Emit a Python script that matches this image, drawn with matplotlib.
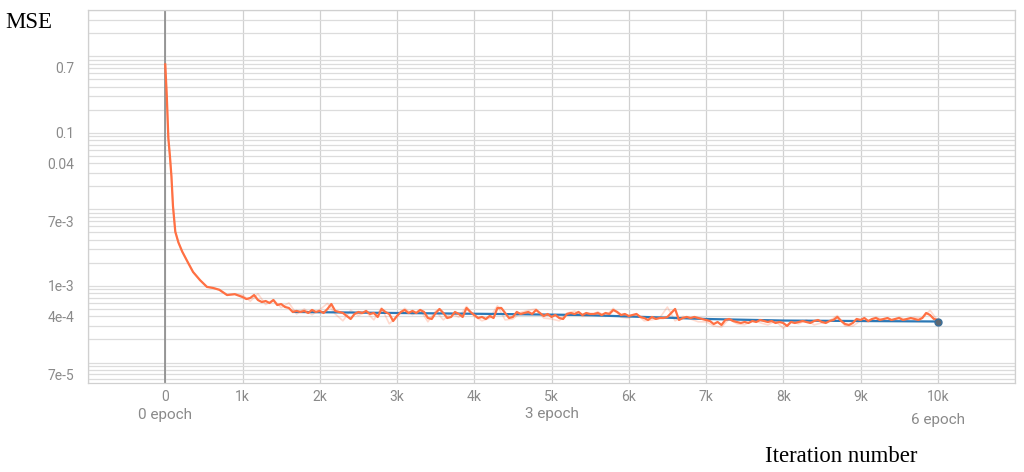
import numpy as np
import matplotlib
matplotlib.use("Agg")
import matplotlib.pyplot as plt
from matplotlib.ticker import FixedLocator, NullFormatter
import matplotlib.transforms as mtransforms

# --- data (MSE values given in units of 1e-4) ---
early_iter = [0, 20, 40, 60, 80, 100, 130, 170, 220, 285, 360, 450, 540, 620, 700, 800, 900]
early_mse = [7800, 3000, 850, 500, 270, 110, 51, 37, 28, 21, 15.2, 11.9, 9.7, 9.4, 8.9, 7.6, 7.8]

# smoothed run, every 50 iterations from 1000 to 10000
smooth_mse = [
    7.16, 6.74, 6.95, 7.60, 6.54, 6.16, 6.35, 5.98, 6.54, 5.63,
    5.80, 5.31, 5.15, 4.57, 4.71, 4.57, 4.71, 4.43, 4.85, 4.57,
    4.71, 4.43, 5.00, 5.80, 4.71, 4.57, 4.43, 4.05, 3.70, 4.30,
    4.57, 4.43, 4.71, 4.30, 4.43, 3.93, 5.00, 4.57, 4.30, 3.48,
    4.05, 4.57, 4.85, 4.43, 4.71, 4.43, 4.85, 4.57, 3.81, 3.70,
    4.43, 5.00, 4.43, 3.81, 3.93, 4.57, 4.30, 3.93, 5.15, 4.57,
    4.17, 3.81, 3.93, 3.70, 4.05, 3.81, 5.15, 5.15, 4.43, 3.81,
    3.93, 4.57, 4.30, 4.43, 4.57, 4.30, 4.85, 4.43, 4.05, 4.30,
    3.93, 4.17, 3.81, 3.70, 4.30, 4.43, 4.30, 4.57, 4.17, 4.43,
    4.30, 4.30, 4.43, 4.17, 4.43, 4.30, 4.85, 4.57, 4.17, 4.30,
    4.05, 4.17, 4.30, 3.93, 3.81, 3.59, 3.93, 3.70, 3.81, 3.81,
    3.93, 4.43, 5.00, 3.59, 3.81, 3.93, 3.81, 3.93, 3.81, 3.70,
    3.59, 3.48, 3.18, 3.38, 3.09, 3.59, 3.70, 3.48, 3.38, 3.28,
    3.38, 3.28, 3.48, 3.38, 3.59, 3.48, 3.38, 3.48, 3.28, 3.38,
    3.28, 3.00, 3.38, 3.28, 3.38, 3.48, 3.38, 3.28, 3.48, 3.59,
    3.38, 3.28, 3.48, 3.59, 3.93, 3.48, 3.18, 3.09, 3.28, 3.70,
    3.59, 3.81, 3.48, 3.70, 3.81, 3.59, 3.70, 3.81, 3.59, 3.70,
    3.81, 3.59, 3.70, 3.81, 3.70, 3.59, 3.81, 4.43, 4.17, 3.70,
    3.59,
]

# raw (unsmoothed) run, every 100 iterations from 1000 to 10000
raw_mse = [
    7.6, 6.3, 7.9, 5.7, 6.6, 5.2, 6.0, 4.3, 5.0, 4.2,
    4.9, 5.9, 4.3, 3.5, 4.8, 4.1, 4.6, 3.6, 5.2, 3.2,
    4.0, 5.1, 4.2, 4.9, 3.4, 4.7, 3.6, 4.4, 3.9, 5.4,
    4.0, 3.5, 3.8, 5.5, 3.6, 3.7, 4.5, 4.8, 5.0, 3.8,
    3.7, 3.5, 4.4, 4.7, 4.0, 4.1, 4.6, 4.0, 5.1, 3.9,
    3.8, 4.3, 3.5, 3.6, 3.8, 5.3, 3.5, 4.0, 3.7, 3.4,
    3.4, 3.0, 2.9, 3.7, 3.2, 3.1, 3.6, 3.3, 3.1, 3.5,
    2.8, 3.4, 3.2, 3.6, 3.1, 3.3, 3.5, 4.1, 3.0, 3.0,
    3.5, 3.4, 3.9, 3.6, 3.5, 3.9, 3.6, 3.9, 3.8, 4.8,
    3.5,
]

blue_iter = [1660, 3000, 4300, 5400, 6000, 7000, 8000, 9000, 10000]
blue_mse = [4.57, 4.43, 4.30, 4.17, 3.99, 3.70, 3.53, 3.48, 3.43]

ytick_vals = [0.7, 0.1, 0.04, 7e-3, 1e-3, 4e-4, 7e-5]
ytick_labels = ["0.7", "0.1", "0.04", "7e-3", "1e-3", "4e-4", "7e-5"]
xtick_vals = [0, 1000, 2000, 3000, 4000, 5000, 6000, 7000, 8000, 9000, 10000]
xtick_labels = ["0", "1k", "2k", "3k", "4k", "5k", "6k", "7k", "8k", "9k", "10k"]
epoch_pos = [0, 5000, 10000]
epoch_labels = ["0 epoch", "3 epoch", "6 epoch"]

smooth_iter = np.arange(1000, 10001, 50)
raw_iter = np.arange(1000, 10001, 100)
x_s = np.concatenate([early_iter, smooth_iter])
y_s = np.concatenate([early_mse, smooth_mse]) * 1e-4
x_r = np.concatenate([early_iter, raw_iter])
y_r = np.concatenate([early_mse, raw_mse]) * 1e-4

fig = plt.figure(figsize=(10.24, 4.72), dpi=100)
ax = fig.add_axes([88 / 1024, 1 - 383 / 472, (1015 - 88) / 1024, 373 / 472])
ax.set_yscale("log")
ax.set_xlim(-1000, 11000)
ax.set_ylim(5.4e-5, 4.0)

orange = "#ff7043"
ax.plot(x_r, y_r, color=orange, lw=1.2, alpha=0.25, zorder=3)
ax.plot(np.array(blue_iter), np.array(blue_mse) * 1e-4, color="#2b78b5", lw=1.6, zorder=4)
ax.plot(x_s, y_s, color=orange, lw=1.6, zorder=5)
ax.plot(blue_iter[-1], blue_mse[-1] * 1e-4, "o", ms=5, mfc="#5f6770", mec="#3a6f9a", mew=1, zorder=6)

# grid: every log minor line plus 1k vertical lines
ax.yaxis.set_major_locator(FixedLocator(ytick_vals))
ax.yaxis.set_major_formatter(matplotlib.ticker.FixedFormatter(ytick_labels))
ax.yaxis.set_minor_locator(matplotlib.ticker.LogLocator(base=10, subs=np.arange(1, 10), numticks=30))
ax.yaxis.set_minor_formatter(NullFormatter())
ax.grid(True, which="minor", axis="y", color="#dcdcdc", lw=0.9)
ax.grid(True, which="major", axis="y", color="#dcdcdc", lw=0.9)
ax.set_xticks(xtick_vals)
ax.set_xticklabels(xtick_labels)
ax.xaxis.set_minor_locator(FixedLocator([-1000, 11000]))
ax.grid(True, which="both", axis="x", color="#d0d0d0", lw=0.9)
ax.axvline(0, color="#8a8a8a", lw=1.2, zorder=2)

for s in ax.spines.values():
    s.set_color("#d0d0d0")
    s.set_linewidth(0.9)

gray = "#8a8a8a"
ax.tick_params(axis="both", which="both", length=0)
ax.tick_params(axis="y", pad=10, labelsize=10, labelcolor=gray)
ax.tick_params(axis="x", pad=5, labelsize=10, labelcolor=gray)
for lab in ax.get_xticklabels() + ax.get_yticklabels():
    lab.set_family(["Roboto", "DejaVu Sans"])

trans = mtransforms.blended_transform_factory(ax.transData, ax.transAxes)
epoch_y = [-0.085, -0.083, -0.1]
for p, lab, yy in zip(epoch_pos, epoch_labels, epoch_y):
    ax.text(p, yy, lab, transform=trans, ha="center", va="center", fontsize=11,
            color=gray, family=["Roboto", "DejaVu Sans"])

fig.text(5 / 1024, 1 - 22 / 472, "MSE", fontsize=16.5, family="Liberation Serif", va="center", ha="left")
fig.text(765 / 1024, 1 - 456 / 472, "Iteration number", fontsize=16.4, family="Liberation Serif",
         va="center", ha="left")

fig.savefig("out.png", dpi=100)
